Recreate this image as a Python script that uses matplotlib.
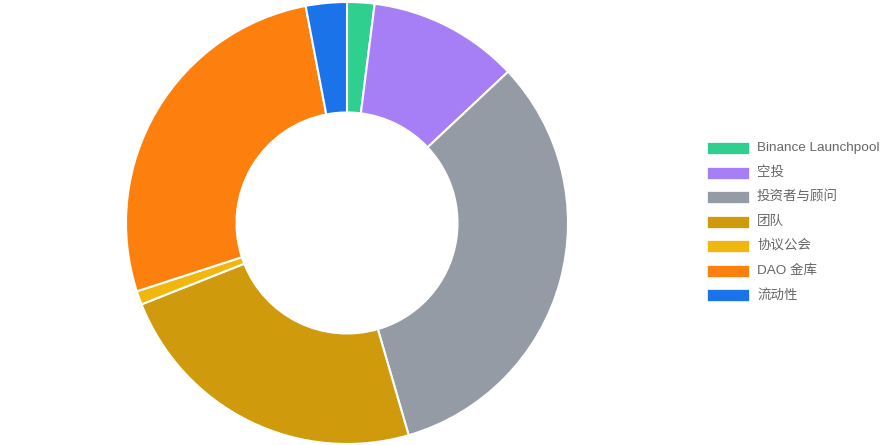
import matplotlib
matplotlib.use("Agg")
import matplotlib.pyplot as plt
from matplotlib.patches import Rectangle

plt.rcParams['font.family'] = ['Liberation Sans', 'Noto Sans CJK SC', 'DejaVu Sans']

labels = ["Binance Launchpool", "空投", "投资者与顾问", "团队", "协议公会", "DAO 金库", "流动性"]
values = [2, 11, 32.5, 23.5, 1, 27, 3]
colors = ["#2fd08f", "#a67ff7", "#949ba5", "#cf9a0c", "#f0b70f", "#fd7f0e", "#1a73e8"]

W, H = 891, 445
fig = plt.figure(figsize=(W / 100, H / 100), dpi=100)
cx, cy, R = 347, 223, 221
ax = fig.add_axes([(cx - R) / W, (H - cy - R) / H, 2 * R / W, 2 * R / H])
ax.pie(values, colors=colors, startangle=90, counterclock=False,
       wedgeprops=dict(width=0.5, edgecolor="white", linewidth=1.5))
ax.set_xlim(-1, 1)
ax.set_ylim(-1, 1)
ax.set_aspect("equal")
ax.axis("off")

y0, dy = 148, 24.5
for i, (lab, col) in enumerate(zip(labels, colors)):
    yc = y0 + i * dy
    fig.patches.append(Rectangle((707 / W, (H - yc - 6) / H), 42 / W, 12 / H,
                                 transform=fig.transFigure, facecolor=col,
                                 edgecolor="white", linewidth=0.5))
    fig.text(757 / W, (H - yc) / H, lab, fontsize=9.7, color="#666666",
             va="center", ha="left")

fig.savefig("out.png", dpi=100)
